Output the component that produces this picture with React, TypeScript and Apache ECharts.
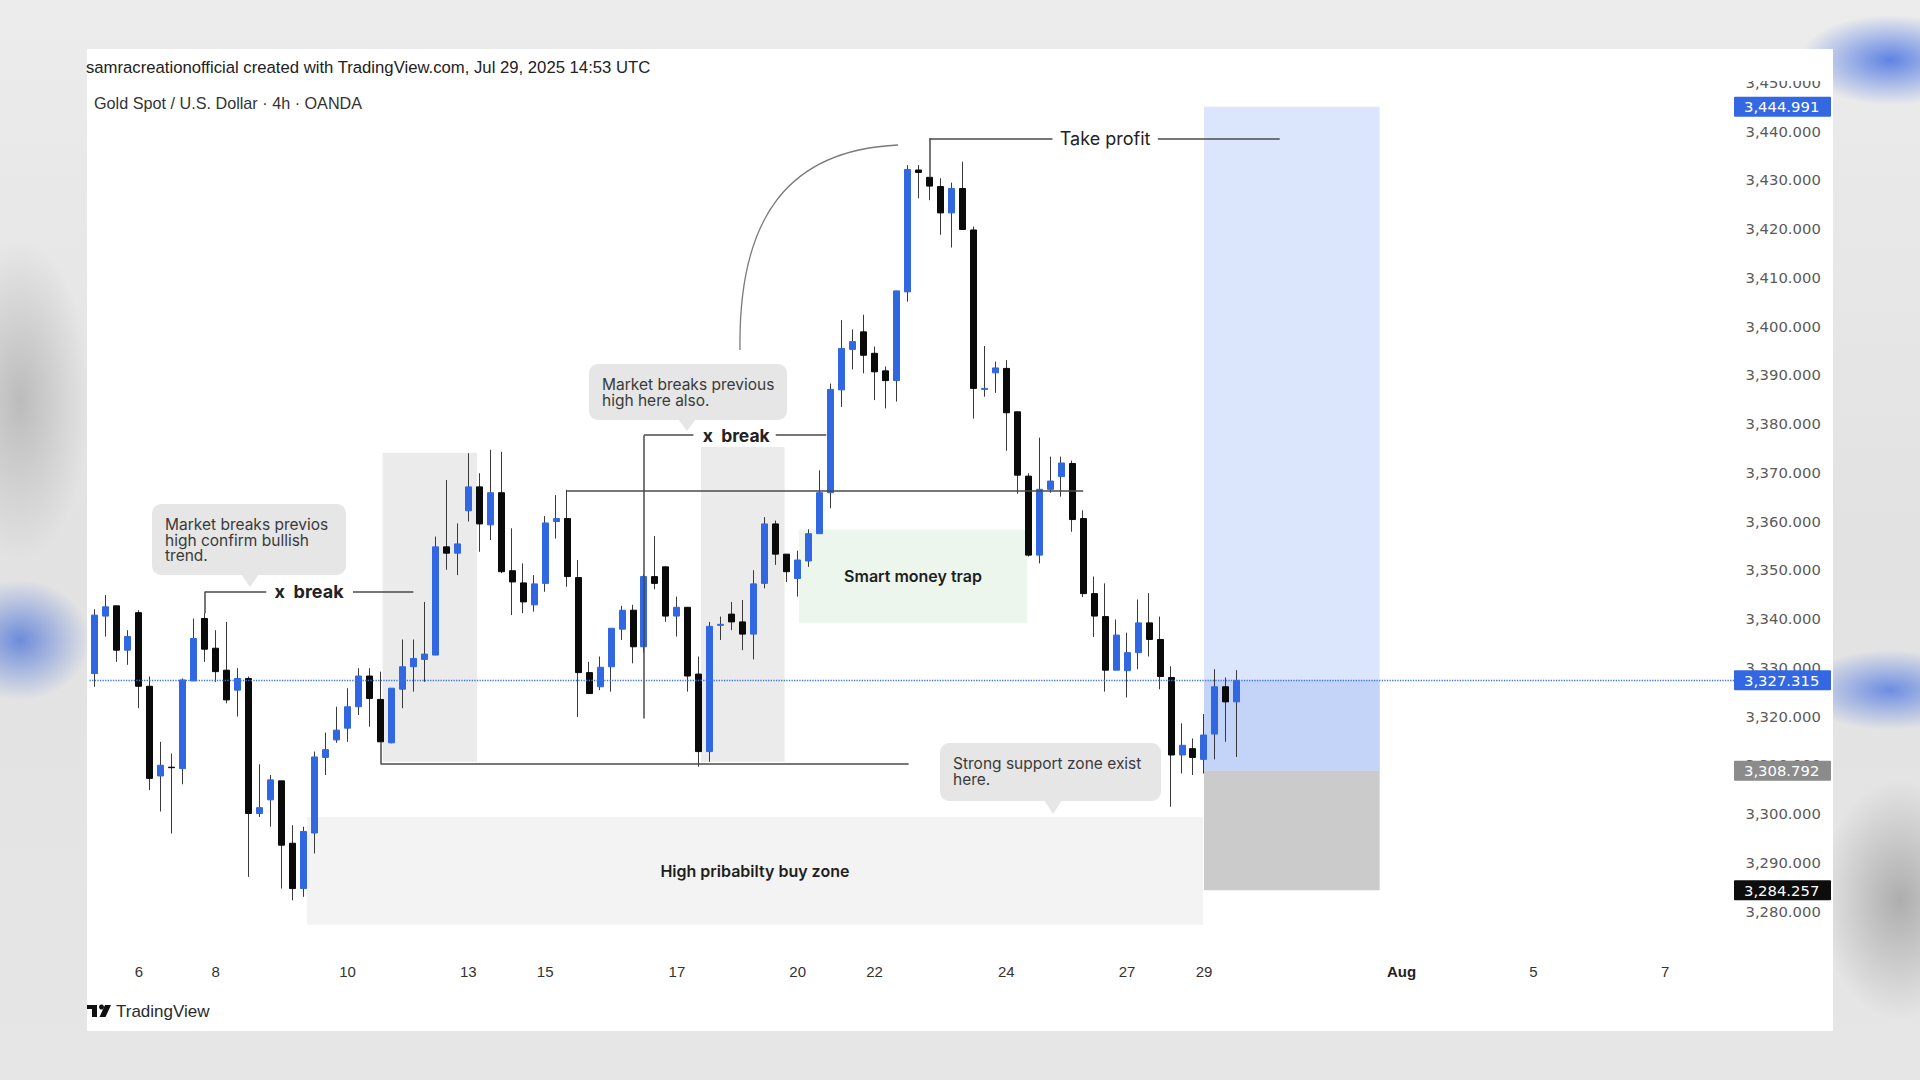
import React, { useEffect, useRef } from "react";
import * as echarts from "echarts";

// ---------- data ----------
const N_SLOTS = 150;

const OPEN = [
  3328.7, 3340.5, 3342.6, 3333.5, 3341.2, 3326.1, 3307.7, 3309.5, 3309.2, 3327.2,
  3340.0, 3333.9, 3329.4, 3325.3, 3327.7, 3300.0, 3302.8, 3306.7, 3293.9, 3284.6,
  3296.0, 3311.5, 3315.1, 3317.5, 3321.9, 3328.2, 3323.4, 3314.5, 3325.5, 3330.1,
  3331.6, 3332.5, 3354.7, 3353.4, 3362.1, 3367.0, 3359.2, 3365.8, 3349.8, 3347.3,
  3342.8, 3347.2, 3359.9, 3360.5, 3348.4, 3328.9, 3326.0, 3330.1, 3337.8, 3341.7,
  3334.2, 3348.6, 3350.6, 3340.5, 3342.3, 3328.6, 3312.7, 3338.6, 3340.9, 3339.3,
  3336.8, 3347.2, 3359.4, 3353.2, 3348.2, 3351.8, 3357.4, 3365.8, 3386.9, 3395.2,
  3398.8, 3394.4, 3390.8, 3388.8, 3407.0, 3432.0, 3430.5, 3428.6, 3423.2, 3428.2,
  3419.7, 3387.0, 3390.4, 3391.3, 3382.4, 3369.2, 3353.0, 3366.5, 3369.1, 3371.8,
  3360.5, 3345.1, 3340.4, 3329.4, 3329.3, 3333.0, 3339.1, 3335.7, 3327.9, 3312.0,
  3313.3, 3311.1, 3316.3, 3326.0, 3322.9,
];
const HIGH = [
  3341.9, 3344.8, 3342.6, 3337.6, 3341.7, 3328.1, 3314.7, 3312.3, 3327.7, 3340.0,
  3341.1, 3337.6, 3339.3, 3329.8, 3328.1, 3310.1, 3307.9, 3306.7, 3297.6, 3297.3,
  3312.7, 3316.6, 3321.9, 3325.7, 3329.8, 3329.8, 3329.1, 3325.7, 3335.7, 3335.7,
  3343.4, 3356.8, 3368.4, 3359.5, 3373.9, 3369.8, 3374.6, 3374.2, 3358.5, 3351.3,
  3348.9, 3361.0, 3365.3, 3366.4, 3352.0, 3331.1, 3332.2, 3338.0, 3342.6, 3342.8,
  3349.0, 3356.9, 3350.6, 3344.5, 3342.3, 3332.2, 3339.3, 3340.4, 3343.4, 3343.8,
  3349.9, 3360.8, 3360.1, 3353.2, 3353.9, 3358.3, 3370.4, 3388.2, 3401.2, 3399.3,
  3402.3, 3395.8, 3391.7, 3407.2, 3433.0, 3433.0, 3430.5, 3430.3, 3429.4, 3433.7,
  3420.4, 3395.9, 3392.7, 3393.0, 3382.4, 3369.8, 3377.1, 3373.2, 3373.2, 3372.4,
  3362.2, 3348.6, 3347.2, 3339.8, 3337.1, 3343.9, 3345.2, 3340.4, 3330.2, 3318.5,
  3315.4, 3320.4, 3329.6, 3327.9, 3329.4,
];
const LOW = [
  3326.0, 3336.3, 3331.1, 3330.5, 3321.6, 3304.8, 3300.4, 3295.9, 3306.0, 3327.2,
  3331.1, 3327.0, 3322.6, 3319.9, 3287.0, 3299.3, 3297.3, 3284.6, 3282.2, 3282.9,
  3291.8, 3307.9, 3314.5, 3314.7, 3320.2, 3317.8, 3314.7, 3314.4, 3321.6, 3325.0,
  3327.0, 3332.5, 3350.0, 3348.9, 3359.9, 3353.7, 3356.1, 3349.3, 3340.7, 3341.1,
  3341.4, 3345.5, 3356.4, 3346.5, 3319.8, 3324.6, 3325.3, 3325.0, 3335.6, 3330.8,
  3333.0, 3346.0, 3339.3, 3336.3, 3325.0, 3309.6, 3310.6, 3335.6, 3337.6, 3333.5,
  3331.6, 3346.2, 3351.0, 3347.5, 3344.5, 3350.6, 3357.4, 3362.6, 3383.4, 3391.1,
  3390.3, 3384.8, 3383.1, 3384.5, 3405.0, 3426.2, 3425.8, 3418.7, 3416.1, 3419.8,
  3381.0, 3385.5, 3386.3, 3374.4, 3365.6, 3352.7, 3351.3, 3365.8, 3365.0, 3357.8,
  3344.4, 3336.2, 3325.0, 3329.4, 3323.8, 3329.6, 3332.2, 3325.5, 3301.4, 3308.2,
  3307.9, 3308.2, 3311.1, 3314.7, 3311.6,
];
const CLOSE = [
  3340.7, 3342.4, 3333.5, 3336.3, 3326.1, 3307.2, 3309.9, 3309.4, 3327.4, 3335.9,
  3333.7, 3329.1, 3323.3, 3327.7, 3300.0, 3301.2, 3306.9, 3293.5, 3284.6, 3296.3,
  3311.6, 3313.1, 3317.1, 3321.9, 3328.2, 3323.6, 3314.7, 3325.7, 3330.1, 3331.8,
  3332.7, 3354.7, 3353.4, 3355.3, 3367.0, 3359.4, 3365.8, 3349.6, 3347.5, 3343.4,
  3347.1, 3359.6, 3360.5, 3348.6, 3328.9, 3324.6, 3330.0, 3338.0, 3341.7, 3334.2,
  3348.6, 3347.2, 3340.5, 3342.3, 3328.2, 3312.7, 3338.4, 3338.8, 3339.3, 3336.8,
  3347.1, 3359.4, 3353.2, 3349.6, 3352.0, 3357.4, 3365.8, 3387.0, 3395.4, 3396.8,
  3394.0, 3390.6, 3388.8, 3407.2, 3432.1, 3431.5, 3428.7, 3423.2, 3428.2, 3419.8,
  3387.2, 3387.2, 3391.4, 3382.2, 3369.4, 3353.0, 3366.5, 3368.2, 3371.9, 3360.3,
  3345.1, 3340.5, 3329.4, 3336.6, 3333.0, 3339.1, 3335.7, 3328.1, 3312.0, 3314.0,
  3311.5, 3316.1, 3326.0, 3322.9, 3327.3,
];

// x-axis tick labels: [slot index, text]
const DAY_TICKS: Array<[number, string]> = [
  [4, "6"], [11, "8"], [23, "10"], [34, "13"], [41, "15"], [53, "17"], [64, "20"],
  [71, "22"], [83, "24"], [94, "27"], [101, "29"], [119, "Aug"], [131, "5"], [143, "7"],
];

const Y_MIN = 3270;
const Y_MAX = 3460;
const Y_STEP = 10;
const Y_LABEL_MIN = 3280;
const Y_LABEL_MAX = 3450;

// long position tool
const TARGET = 3444.991;
const LAST = 3327.315;
const ENTRY = 3308.792;
const STOP = 3284.257;
const POS_FROM = 101;
const POS_TO = 117;

// drawn zones: [slotFrom, priceTop] -> [slotTo, priceBottom]
const ZONES = [
  { label: "High pribabilty buy zone", from: [19.3, 3299.3], to: [100.9, 3277.2], color: "#f3f3f3" },
  { label: "", from: [26.2, 3374.0], to: [34.8, 3310.6], color: "#ebebeb" },
  { label: "", from: [55.2, 3375.2], to: [62.8, 3310.6], color: "#ebebeb" },
  { label: "Smart money trap", from: [64.1, 3358.2], to: [84.9, 3339.1], color: "#edf6ec" },
  { label: "", from: [POS_FROM, TARGET], to: [POS_TO, ENTRY], color: "#dbe5fb" },
  { label: "", from: [POS_FROM, LAST], to: [POS_TO, ENTRY], color: "#c4d4f8" },
  { label: "", from: [POS_FROM, ENTRY], to: [POS_TO, STOP], color: "#cbcbcb" },
];

// drawn line segments
const SEGMENTS: Array<[[number, number], [number, number]]> = [
  [[26, 3314.7], [26, 3310.2]],
  [[26, 3310.2], [74.1, 3310.2]],
  [[10, 3341.1], [10, 3345.5]],
  [[10, 3345.5], [15.6, 3345.5]],
  [[23.5, 3345.5], [29.0, 3345.5]],
  [[43, 3366.2], [90.0, 3366.2]],
  [[50, 3319.5], [50, 3377.6]],
  [[50, 3377.6], [54.5, 3377.6]],
  [[62.0, 3377.6], [66.6, 3377.6]],
  [[76, 3430.5], [76, 3438.5]],
  [[76, 3438.5], [87.2, 3438.5]],
  [[96.8, 3438.5], [107.9, 3438.5]],
];

const LINE_TEXTS = [
  { text: "x  break", at: [19.5, 3345.5], weight: "bold", size: 18 },
  { text: "x  break", at: [58.4, 3377.6], weight: "bold", size: 17.5 },
  { text: "Take profit", at: [92.0, 3438.5], weight: "normal", size: 18 },
];

const BUBBLES = [
  { x: 152, y: 504, w: 194, h: 71, lines: ["Market breaks previos", "high confirm bullish", "trend."], tip: [250, 587] },
  { x: 589, y: 364, w: 198, h: 56, lines: ["Market breaks previous", "high here also."], tip: [687, 431] },
  { x: 940, y: 743, w: 221, h: 58, lines: ["Strong support zone exist", "here."], tip: [1053, 814] },
];

const PRICE_TAGS = [
  { value: TARGET, bg: "#3468e2" },
  { value: LAST, bg: "#3468e2" },
  { value: ENTRY, bg: "#8b8b8b" },
  { value: STOP, bg: "#0d0d0d" },
];

// ---------- helpers ----------
function fmtPrice(v: number): string {
  const s = v.toFixed(3);
  const [intPart, dec] = s.split(".");
  const withComma = intPart.replace(/\B(?=(\d{3})+(?!\d))/g, ",");
  return withComma + "." + dec;
}

export default function App() {
  const ref = useRef<HTMLDivElement>(null);

  useEffect(() => {
    document.body.style.margin = "0";
    const el = ref.current;
    if (!el) return;
    const chart = echarts.init(el, null, { renderer: "svg" });

    const cats = Array.from({ length: N_SLOTS }, (_, i) => String(i));
    const tickMap = new Map<number, string>(DAY_TICKS);
    const wickData = OPEN.map((o, i) => [o, CLOSE[i], LOW[i], HIGH[i]]);
    const bodyData = OPEN.map((o, i) => [o, CLOSE[i], Math.min(o, CLOSE[i]), Math.max(o, CLOSE[i])]);

    const areaData = ZONES.map((z) => [
      {
        name: z.label,
        coord: z.from,
        itemStyle: { color: z.color },
        label: z.label
          ? { show: true, position: "inside", color: "#1e1e1e", fontSize: 16, fontWeight: 600, fontFamily: "Inter" }
          : { show: false },
      },
      { coord: z.to },
    ]);

    const lineData: any[] = SEGMENTS.map((s) => [{ coord: s[0] }, { coord: s[1] }]);
    lineData.push([
      { coord: [-0.5, LAST], lineStyle: { color: "#3f72e6", type: "dotted", width: 1.3 } },
      { coord: [N_SLOTS - 0.5, LAST] },
    ]);

    const option: any = {
      animation: false,
      backgroundColor: "transparent",
      grid: { left: 89.5, right: 183.5, top: 33.5, bottom: 120.25, containLabel: false },
      xAxis: [
        {
          type: "category",
          data: cats,
          boundaryGap: true,
          axisLine: { show: false },
          axisTick: { show: false },
          splitLine: { show: false },
          axisLabel: {
            interval: (idx: number) => tickMap.has(idx),
            formatter: (_v: string, idx: number) => {
              const t = tickMap.get(idx);
              if (!t) return "";
              return t === "Aug" ? "{b|Aug}" : t;
            },
            color: "#333",
            fontSize: 15,
            fontFamily: "Liberation Sans",
            margin: 4,
            rich: { b: { fontWeight: "bold", fontSize: 15, color: "#222", fontFamily: "Liberation Sans" } },
          },
        },
        { type: "value", min: -0.5, max: N_SLOTS - 0.5, show: false },
      ],
      yAxis: {
        type: "value",
        position: "right",
        min: Y_MIN,
        max: Y_MAX,
        interval: Y_STEP,
        splitLine: { show: false },
        axisLine: { show: false },
        axisTick: { show: false },
        axisLabel: {
          formatter: (v: number) => (v < Y_LABEL_MIN || v > Y_LABEL_MAX ? "" : fmtPrice(v)),
          color: "#5a5a5a",
          fontSize: 14.8,
          fontFamily: "DejaVu Sans",
          margin: 9,
          align: "left",
        },
      },
      series: [
        {
          type: "line",
          xAxisIndex: 1,
          yAxisIndex: 0,
          data: [[-10, 3300]],
          symbol: "none",
          showSymbol: false,
          lineStyle: { opacity: 0 },
          silent: true,
          z: 1,
          markArea: { silent: true, data: areaData },
        },
        {
          type: "candlestick",
          xAxisIndex: 0,
          yAxisIndex: 0,
          data: wickData,
          barWidth: 1,
          z: 2,
          silent: true,
          itemStyle: { color: "#3a3a3a", color0: "#3a3a3a", borderColor: "#3a3a3a", borderColor0: "#3a3a3a", borderWidth: 1 },
        },
        {
          type: "candlestick",
          xAxisIndex: 0,
          yAxisIndex: 0,
          data: bodyData,
          barWidth: 6.5,
          z: 3,
          silent: true,
          itemStyle: { color: "#3168e2", color0: "#0a0a0a", borderColor: "#3168e2", borderColor0: "#0a0a0a", borderWidth: 1 },
        },
        {
          type: "line",
          xAxisIndex: 1,
          yAxisIndex: 0,
          data: [[-10, 3300]],
          symbol: "none",
          showSymbol: false,
          lineStyle: { opacity: 0 },
          silent: true,
          z: 4,
          markLine: {
            silent: true,
            symbol: ["none", "none"],
            label: { show: false },
            lineStyle: { color: "#4a4a4a", width: 1.5, type: "solid" },
            data: lineData,
          },
        },
      ],
    };

    chart.setOption(option);

    const px = (j: number, p: number) => chart.convertToPixel({ seriesIndex: 3 }, [j, p]) as number[];
    const pyOnly = (p: number) => px(0, p)[1];

    const g: any[] = [];

    // header band
    g.push({ type: "rect", shape: { x: 87, y: 49, width: 1746, height: 32 }, style: { fill: "#ffffff" }, z: 100, silent: true });
    g.push({
      type: "text", x: 86, y: 67, z: 101, silent: true,
      style: { text: "samracreationofficial created with TradingView.com, Jul 29, 2025 14:53 UTC", fill: "#222", fontSize: 16.7, fontFamily: "Liberation Sans", align: "left", textAlign: "left", verticalAlign: "middle", textVerticalAlign: "middle" },
    });
    g.push({
      type: "text", x: 94, y: 103, z: 101, silent: true,
      style: { text: "Gold Spot / U.S. Dollar · 4h · OANDA", fill: "#333", fontSize: 16.2, fontFamily: "Liberation Sans", align: "left", textAlign: "left", verticalAlign: "middle", textVerticalAlign: "middle" },
    });

    // curved arrow
    g.push({
      type: "bezierCurve", z: 50, silent: true,
      shape: { x1: 740, y1: 350, x2: 898, y2: 145, cpx1: 738, cpy1: 215, cpx2: 790, cpy2: 150 },
      style: { stroke: "#7a7a7a", lineWidth: 1.3, fill: "none" },
    });

    // texts on lines
    LINE_TEXTS.forEach((t) => {
      const [x, y] = px(t.at[0], t.at[1]);
      g.push({
        type: "text", x, y, z: 60, silent: true,
        style: { text: t.text, fill: "#222", fontSize: t.size, fontWeight: t.weight, fontFamily: "Inter", align: "center", textAlign: "center", verticalAlign: "middle", textVerticalAlign: "middle" },
      });
    });

    // callout bubbles
    BUBBLES.forEach((b) => {
      g.push({ type: "rect", z: 55, silent: true, shape: { x: b.x, y: b.y, width: b.w, height: b.h, r: 9 }, style: { fill: "#e6e6e6" } });
      g.push({
        type: "polygon", z: 55, silent: true,
        shape: { points: [[b.tip[0] - 9, b.y + b.h - 1], [b.tip[0] + 9, b.y + b.h - 1], [b.tip[0], b.tip[1]]] },
        style: { fill: "#e6e6e6" },
      });
      g.push({
        type: "text", x: b.x + 13, y: b.y + 13, z: 56, silent: true,
        style: { text: b.lines.join("\n"), fill: "#3a3a3a", fontSize: 15.5, lineHeight: 15.5, fontFamily: "Inter", align: "left", textAlign: "left", verticalAlign: "top", textVerticalAlign: "top" },
      });
    });

    // price tags
    PRICE_TAGS.forEach((t) => {
      const y = pyOnly(t.value);
      g.push({ type: "rect", z: 90, silent: true, shape: { x: 1734, y: y - 10, width: 97, height: 20, r: 1 }, style: { fill: t.bg } });
      g.push({
        type: "text", x: 1744, y, z: 91, silent: true,
        style: { text: fmtPrice(t.value), fill: "#ffffff", fontSize: 14.8, fontFamily: "DejaVu Sans", align: "left", textAlign: "left", verticalAlign: "middle", textVerticalAlign: "middle" },
      });
    });

    // footer logo
    g.push({ type: "rect", z: 90, silent: true, shape: { x: 87, y: 1005, width: 10, height: 4 }, style: { fill: "#111" } });
    g.push({ type: "rect", z: 90, silent: true, shape: { x: 92, y: 1005, width: 5, height: 12 }, style: { fill: "#111" } });
    g.push({ type: "circle", z: 90, silent: true, shape: { cx: 101.5, cy: 1007, r: 2.5 }, style: { fill: "#111" } });
    g.push({ type: "polygon", z: 90, silent: true, shape: { points: [[105, 1005], [111, 1005], [105.5, 1017], [99.5, 1017]] }, style: { fill: "#111" } });
    g.push({
      type: "text", x: 116, y: 1011.5, z: 91, silent: true,
      style: { text: "TradingView", fill: "#2a2a2a", fontSize: 17, fontFamily: "Liberation Sans", align: "left", textAlign: "left", verticalAlign: "middle", textVerticalAlign: "middle" },
    });

    chart.setOption({ graphic: { elements: g } });

    return () => {
      chart.dispose();
    };
  }, []);

  const bg =
    "radial-gradient(ellipse 70px 60px at 20px 640px, rgba(70,110,215,0.75), rgba(70,110,215,0) 100%)," +
    "radial-gradient(ellipse 90px 45px at 1890px 60px, rgba(60,105,225,0.8), rgba(60,105,225,0) 100%)," +
    "radial-gradient(ellipse 90px 40px at 1890px 690px, rgba(60,105,225,0.7), rgba(60,105,225,0) 100%)," +
    "radial-gradient(ellipse 80px 120px at 1900px 900px, rgba(150,150,150,0.7), rgba(150,150,150,0) 100%)," +
    "radial-gradient(ellipse 70px 160px at 20px 400px, rgba(160,160,160,0.6), rgba(160,160,160,0) 100%)," +
    "linear-gradient(180deg, #ececec 0%, #e2e2e2 50%, #e6e6e6 100%)";

  return (
    <div style={{ position: "fixed", left: 0, top: 0, width: 1920, height: 1080, overflow: "hidden", background: bg }}>
      <div style={{ position: "absolute", left: 87, top: 49, width: 1746, height: 982, background: "#ffffff" }} />
      <div ref={ref} style={{ position: "absolute", left: 0, top: 0, width: 1920, height: 1080 }} />
    </div>
  );
}
